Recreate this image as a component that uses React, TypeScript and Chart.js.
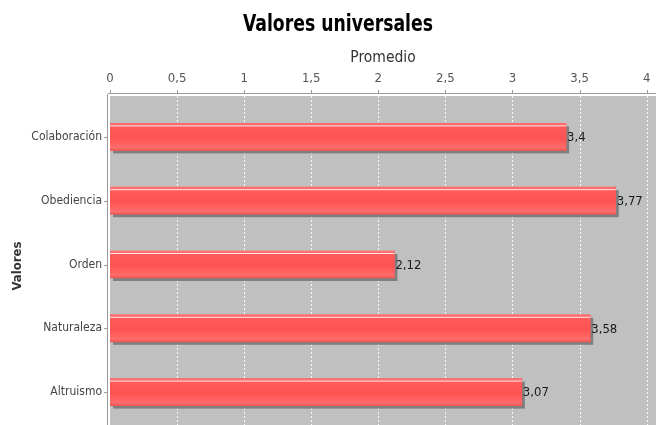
import React, { useEffect, useRef } from "react";
import { Chart, registerables } from "chart.js";

Chart.register(...registerables);

const chartTitle = "Valores universales";
const xAxisTitle = "Promedio";
const yAxisTitle = "Valores";
const categories = ["Colaboración", "Obediencia", "Orden", "Naturaleza", "Altruismo"];
const promedios = [3.4, 3.77, 2.12, 3.58, 3.07];
const xTicks = [0, 0.5, 1, 1.5, 2, 2.5, 3, 3.5, 4];
const xMin = 0;
const xMax = 4.07;

const fmt = (v: number) => String(v).replace(".", ",");

const PLOT_TOP = 96;
const FONT = "'DejaVu Sans Condensed', 'DejaVu Sans', sans-serif";

const decorPlugin = {
  id: "decor",
  beforeDatasetsDraw(chart: any) {
    const { ctx, chartArea } = chart;
    const xs = chart.scales.x;
    const ys = chart.scales.y;
    const bottom = chart.height;
    ctx.save();
    // title
    ctx.fillStyle = "#000";
    ctx.font = `bold 23px ${FONT}`;
    ctx.textAlign = "center";
    ctx.textBaseline = "alphabetic";
    const tw = ctx.measureText(chartTitle).width;
    const target = 190;
    ctx.save();
    ctx.translate(338, 31);
    ctx.scale(target / tw, 1);
    ctx.fillText(chartTitle, 0, 0);
    ctx.restore();
    // y axis title
    ctx.save();
    ctx.translate(18, 266);
    ctx.rotate(-Math.PI / 2);
    ctx.fillStyle = "#333";
    ctx.font = `bold 13px ${FONT}`;
    ctx.textAlign = "center";
    ctx.textBaseline = "middle";
    ctx.fillText(yAxisTitle, 0, 0);
    ctx.restore();
    // plot background
    ctx.fillStyle = "#c0c0c0";
    ctx.fillRect(chartArea.left, PLOT_TOP, chartArea.right - chartArea.left, bottom - PLOT_TOP);
    // dashed grid lines
    ctx.strokeStyle = "rgba(255,255,255,0.9)";
    ctx.lineWidth = 1;
    ctx.setLineDash([2, 2]);
    xs.ticks.forEach((t: any) => {
      if (t.value === 0) return;
      const px = Math.round(xs.getPixelForValue(t.value)) + 0.5;
      ctx.beginPath();
      ctx.moveTo(px, PLOT_TOP);
      ctx.lineTo(px, bottom);
      ctx.stroke();
    });
    ctx.setLineDash([]);
    // top axis line and ticks
    ctx.strokeStyle = "#9a9a9a";
    ctx.beginPath();
    ctx.moveTo(chartArea.left - 2, PLOT_TOP - 2.5);
    ctx.lineTo(chartArea.right, PLOT_TOP - 2.5);
    ctx.stroke();
    xs.ticks.forEach((t: any) => {
      const px = Math.round(xs.getPixelForValue(t.value)) + 0.5;
      ctx.beginPath();
      ctx.moveTo(px, PLOT_TOP - 6);
      ctx.lineTo(px, PLOT_TOP - 2.5);
      ctx.stroke();
    });
    // left axis line and ticks
    ctx.beginPath();
    ctx.moveTo(chartArea.left - 2.5, PLOT_TOP - 2);
    ctx.lineTo(chartArea.left - 2.5, bottom);
    ctx.stroke();
    ys.ticks.forEach((_t: any, i: number) => {
      const py = Math.round(ys.getPixelForValue(i)) + 0.5;
      ctx.beginPath();
      ctx.moveTo(chartArea.left - 6, py);
      ctx.lineTo(chartArea.left - 2.5, py);
      ctx.stroke();
    });
    // bar shadows
    const meta = chart.getDatasetMeta(0);
    ctx.fillStyle = "#7f7f7f";
    meta.data.forEach((bar: any) => {
      const h = bar.height;
      const top = bar.y - h / 2;
      ctx.fillRect(bar.base + 3, top + 3, bar.x - bar.base, h);
    });
    ctx.restore();
  },
  afterDatasetsDraw(chart: any) {
    const { ctx } = chart;
    const meta = chart.getDatasetMeta(0);
    ctx.save();
    meta.data.forEach((bar: any, i: number) => {
      const h = bar.height;
      const top = bar.y - h / 2;
      const w = bar.x - bar.base;
      const g = ctx.createLinearGradient(0, top, 0, top + h);
      g.addColorStop(0, "#ff7777");
      g.addColorStop(0.12, "#ff5a5a");
      g.addColorStop(0.55, "#ff5252");
      g.addColorStop(0.9, "#ff6c6c");
      g.addColorStop(1, "#e85555");
      ctx.fillStyle = g;
      ctx.fillRect(bar.base, top, w, h);
      ctx.fillStyle = "rgba(255,255,255,0.85)";
      ctx.fillRect(bar.base, top + 2, w, 1);
      ctx.fillStyle = "#1a1a1a";
      ctx.font = `13px ${FONT}`;
      ctx.textAlign = "left";
      ctx.textBaseline = "middle";
      ctx.fillText(fmt(promedios[i]), bar.x + 1, bar.y + 1);
    });
    ctx.restore();
  },
};

export default function App() {
  const ref = useRef<HTMLCanvasElement | null>(null);
  useEffect(() => {
    if (!ref.current) return;
    const chart = new Chart(ref.current, {
      type: "bar",
      data: {
        labels: categories,
        datasets: [
          {
            data: promedios,
            backgroundColor: "#ff5555",
            borderWidth: 0,
            barThickness: 27,
          },
        ],
      },
      options: {
        indexAxis: "y",
        animation: false,
        responsive: false,
        layout: { padding: { left: 0, right: 2, top: 40, bottom: 1 } },
        plugins: {
          legend: { display: false },
          tooltip: { enabled: false },
          title: { display: false },
        },
        scales: {
          x: {
            type: "linear",
            position: "top",
            min: xMin,
            max: xMax,
            afterBuildTicks: (s: any) => {
              s.ticks = xTicks.map((v) => ({ value: v }));
            },
            afterFit: (s: any) => {
              s.height = 65;
              s.paddingLeft = 0;
              s.paddingRight = 0;
            },
            ticks: {
              padding: 11,
              color: "#555",
              font: { family: FONT, size: 13 },
              callback: (v: any) => fmt(v),
              maxRotation: 0,
              autoSkip: false,
            },
            grid: { display: false },
            border: { display: false },
            title: {
              display: true,
              text: xAxisTitle,
              color: "#333",
              font: { family: FONT, size: 15.5 },
              padding: { top: 9, bottom: 0 },
            },
          },
          y: {
            type: "category",
            afterFit: (s: any) => {
              s.width = 110;
              s.paddingTop = 0;
              s.paddingBottom = 0;
            },
            ticks: {
              padding: 0,
              color: "#444",
              font: { family: FONT, size: 12 },
            },
            grid: { display: false },
            border: { display: false },
            title: { display: false },
          },
        },
      },
      plugins: [decorPlugin],
    });
    return () => chart.destroy();
  }, []);
  return (
    <canvas
      ref={ref}
      width={658}
      height={425}
      style={{ position: "absolute", left: 0, top: 0, width: 658, height: 425 }}
    />
  );
}
